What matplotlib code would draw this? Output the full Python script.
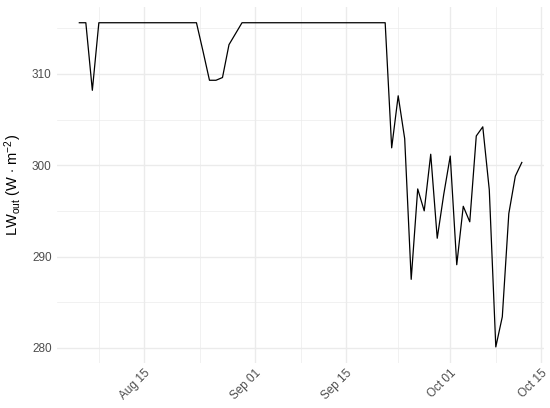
import numpy as np
import pandas as pd
import matplotlib
matplotlib.use("Agg")
import matplotlib.pyplot as plt
import matplotlib.dates as mdates

plt.rcParams['font.family'] = ['Liberation Sans', 'DejaVu Sans']
plt.rcParams['mathtext.fontset'] = 'custom'
plt.rcParams['mathtext.rm'] = 'Liberation Sans'
plt.rcParams['mathtext.it'] = 'Liberation Sans:italic'

# daily outgoing longwave radiation, Aug 5 - Oct 12
start_date = "2023-08-05"
lw_out = [
    315.6, 315.6, 308.2, 315.6, 315.6, 315.6, 315.6,   # Aug 05-11
    315.6, 315.6, 315.6, 315.6, 315.6, 315.6, 315.6,   # Aug 12-18
    315.6, 315.6, 315.6, 315.6, 315.6, 312.5, 309.3,   # Aug 19-25
    309.3, 309.6, 313.2, 314.4, 315.6, 315.6, 315.6,   # Aug 26-Sep 01
    315.6, 315.6, 315.6, 315.6, 315.6, 315.6, 315.6,   # Sep 02-08
    315.6, 315.6, 315.6, 315.6, 315.6, 315.6, 315.6,   # Sep 09-15
    315.6, 315.6, 315.6, 315.6, 315.6, 315.6, 301.9,   # Sep 16-22
    307.6, 302.9, 287.5, 297.4, 295.0, 301.2, 292.0,   # Sep 23-29
    296.8, 301.0, 289.1, 295.5, 293.8, 303.2, 304.2,   # Sep 30-Oct 06
    297.3, 280.1, 283.4, 294.7, 298.8, 300.3,          # Oct 07-12
]
dates = pd.date_range(start_date, periods=len(lw_out), freq="D")

major_ticks = pd.to_datetime(["2023-08-15", "2023-09-01", "2023-09-15", "2023-10-01", "2023-10-15"])
minor_ticks = pd.to_datetime(["2023-08-08 00:00", "2023-08-23 12:00", "2023-09-08 00:00",
                              "2023-09-23 00:00", "2023-10-08 00:00"])
y_major = [280, 290, 300, 310]
y_minor = [285, 295, 305, 315]

fig = plt.figure(figsize=(5.5, 4.08), dpi=100)
ax = fig.add_axes([0.104, 0.110, 0.885, 0.874])

ax.plot(dates, lw_out, color='black', lw=0.9)

# ggplot-like 5% expansion
xn = mdates.date2num(dates)
xr = xn.max() - xn.min()
ax.set_xlim(xn.min() - 0.05 * xr, xn.max() + 0.05 * xr)
yr = max(lw_out) - min(lw_out)
ax.set_ylim(min(lw_out) - 0.05 * yr, max(lw_out) + 0.05 * yr)

ax.set_xticks(major_ticks)
ax.set_xticks(minor_ticks, minor=True)
ax.xaxis.set_major_formatter(mdates.DateFormatter("%b %d"))
ax.set_yticks(y_major)
ax.set_yticks(y_minor, minor=True)

ax.grid(True, which='major', color='#EBEBEB', lw=1.0)
ax.grid(True, which='minor', color='#EBEBEB', lw=0.5)
ax.set_axisbelow(True)
for s in ax.spines.values():
    s.set_visible(False)

ax.tick_params(which='both', length=0)
ax.tick_params(axis='y', labelsize=8.5, labelcolor='#4D4D4D', pad=4)
ax.tick_params(axis='x', labelsize=8.5, labelcolor='#4D4D4D', pad=3)
for lab in ax.get_xticklabels():
    lab.set_rotation(45)
    lab.set_ha('right')
    lab.set_rotation_mode('anchor')

ax.set_ylabel(r'LW$_{\mathrm{out}}$ (W $\cdot$ m$^{-2}$)', fontsize=10.5, labelpad=6)

fig.savefig("out.png", dpi=100, facecolor='white')
